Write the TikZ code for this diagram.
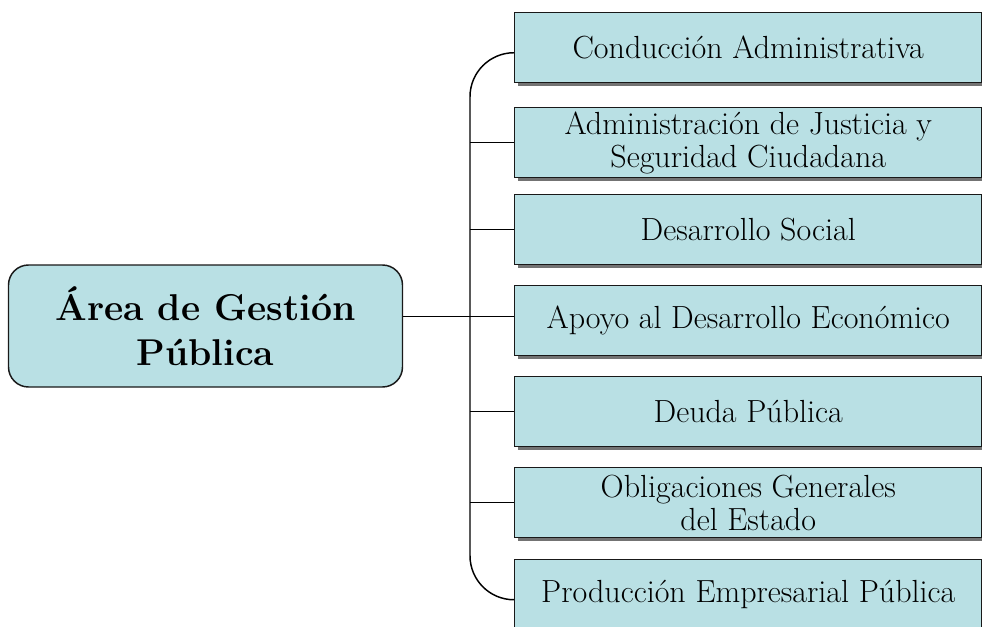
\documentclass[tikz,border=0pt]{standalone}
\usetikzlibrary{calc}
\usetikzlibrary{shadows}
\definecolor{cajaazul}{RGB}{185,224,228}

\begin{document}
\begin{tikzpicture}[x=0.75pt, y=-0.75pt,
        mainbox/.style={draw=black!90, line width=1.1pt, fill=cajaazul, rounded corners=15pt,
            minimum width=295.5pt, minimum height=91.5pt, align=center,
            font=\fontsize{28}{34}\selectfont\bfseries},
        subbox/.style={draw=black!90, line width=1.1pt, fill=cajaazul, anchor=north west,
            minimum width=350.25pt, minimum height=52.5pt, inner sep=0pt, align=center,
            font=\fontsize{24}{25}\selectfont,
            drop shadow={shadow xshift=2.25pt, shadow yshift=-2.6pt, fill=black!55, opacity=1}},
        link/.style={line width=1.1pt}]
        \useasboundingbox (0,0) rectangle (982,626);

        \node[mainbox] (area) at (205.5,326) {Área de Gestión\\Pública};

        \node[subbox] (c1) at (514,12) {Conducción Administrativa};
        \node[subbox] (c2) at (514,107) {Administración de Justicia y\\Seguridad Ciudadana};
        \node[subbox] (c3) at (514,194) {Desarrollo Social};
        \node[subbox] (c4) at (514,285) {Apoyo al Desarrollo Económico};
        \node[subbox] (c5) at (514,376) {Deuda Pública};
        \node[subbox] (c6) at (514,467) {Obligaciones Generales\\del Estado};
        \node[subbox] (c7) at (514,559) {Producción Empresarial Pública};

        % spine with rounded ends
        \coordinate (spine) at (470,0);
        \coordinate (top) at ($(c1.west)+(0,5)$);
        \coordinate (bot) at ($(c7.west)+(0,5)$);
        \coordinate (hub) at ($(c4.west)+(0,-4)$);
        \draw[link, rounded corners=33pt] (top) -- (top -| spine) -- (bot -| spine) -- (bot);

        \draw[link] (area.east |- hub) -- (hub);
        \draw[link] (c2.west -| spine) -- (c2.west);
        \draw[link] (c3.west -| spine) -- (c3.west);
        \draw[link] (c5.west -| spine) -- (c5.west);
        \draw[link] (c6.west -| spine) -- (c6.west);
    \end{tikzpicture}
\end{document}
